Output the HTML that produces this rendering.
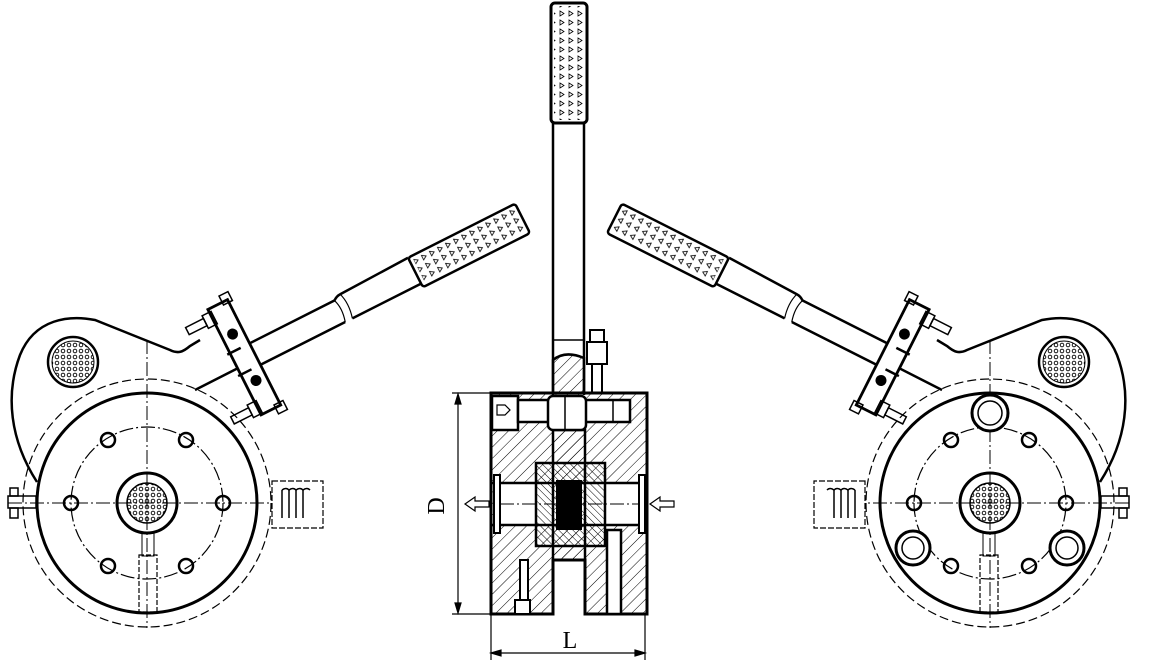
<!DOCTYPE html>
<html><head><meta charset="utf-8"><style>html,body{margin:0;padding:0;background:#fff}svg{display:block}</style></head>
<body>
<svg width="1174" height="666" viewBox="0 0 1174 666" xmlns="http://www.w3.org/2000/svg" fill="none" stroke="#000">
<defs>
<pattern id="h" width="8" height="8" patternUnits="userSpaceOnUse" patternTransform="rotate(45)"><line x1="0" y1="0" x2="0" y2="8" stroke="#000" stroke-width="1"/></pattern>
<pattern id="h2" width="5" height="5" patternUnits="userSpaceOnUse" patternTransform="rotate(-45)"><line x1="0" y1="0" x2="0" y2="5" stroke="#000" stroke-width="1"/></pattern>
<pattern id="tri" width="9" height="9" patternUnits="userSpaceOnUse"><path d="M2 2 L6 4.5 L2 7 Z" stroke="#000" stroke-width="0.8" fill="none"/></pattern>
<pattern id="dots" width="6" height="6" patternUnits="userSpaceOnUse"><circle cx="3" cy="3" r="1.8" stroke="#000" stroke-width="0.9"/></pattern>
<g id="dev">
  <path d="M37 482 C10 440 5 395 20 355 C35 318 70 315 95 320 L170 350 C178 354 183 352 190 346 L200 340" stroke-width="2.5"/>
  <circle cx="73" cy="362" r="25" stroke-width="2.5"/>
  <circle cx="73" cy="362" r="21" fill="url(#dots)" stroke-width="1"/>
  <circle cx="147" cy="503" r="124" stroke-width="1.2" stroke-dasharray="9 4"/>
  <circle cx="147" cy="503" r="110" stroke-width="3"/>
  <circle cx="147" cy="503" r="76" stroke-width="1.2" stroke-dasharray="14 3 2 3"/>
  <line x1="147" y1="340" x2="147" y2="628" stroke-width="1" stroke-dasharray="14 3 2 3"/>
  <line x1="8" y1="503" x2="272" y2="503" stroke-width="1" stroke-dasharray="14 3 2 3"/>
  <g stroke-width="2.5">
    <circle cx="71" cy="503" r="7"/><circle cx="223" cy="503" r="7"/>
    <circle cx="108" cy="440" r="7"/><circle cx="186" cy="440" r="7"/>
    <circle cx="108" cy="566" r="7"/><circle cx="186" cy="566" r="7"/>
  </g>
  <circle cx="147" cy="503" r="30" stroke-width="3"/>
  <circle cx="147" cy="503" r="20" fill="url(#dots)" stroke-width="1.5"/>
  <rect x="139" y="555" width="18" height="57" stroke-width="1.2" stroke-dasharray="5 2"/>
  <rect x="142" y="532" width="12" height="24" stroke-width="1"/>
  <rect x="272" y="481" width="51" height="47" stroke-width="1.2" stroke-dasharray="6 2"/>
  <g stroke-width="1.5"><path d="M282 490 v28 M289 490 v28 M296 490 v28 M303 490 v28"/><path d="M282 490 q4 -3 7 0 M289 490 q4 -3 7 0 M296 490 q4 -3 7 0 M303 490 q4 -3 7 0"/></g>
  <g stroke-width="1.5"><rect x="8" y="496" width="28" height="12"/><rect x="10" y="488" width="8" height="8"/><rect x="10" y="508" width="8" height="10"/></g>
  <line x1="195" y1="390" x2="250" y2="362" stroke-width="2.5"/>
  <g transform="translate(230,360) rotate(-26.8)">
    <path d="M0 -6 L120 -6 M0 18 L120 18" stroke-width="2.5"/>
    <path d="M120 -6 q4 -3 8 -3 L205 -11 M128 18 L205 18" stroke-width="2.5"/>
    <path d="M120 -6 q4 10 0 24 M128 -9 q4 12 0 27" stroke-width="1.2"/>
    <rect x="205" y="-11" width="120" height="33" rx="3" stroke-width="2.5"/>
    <rect x="209" y="-8" width="113" height="27" fill="url(#tri)" stroke="none"/>
    <g transform="translate(25,0)">
    <rect x="-22" y="-55" width="22" height="118" stroke-width="2.8" fill="#fff"/>
    <circle cx="-11" cy="-22" r="5" fill="#000"/><circle cx="-11" cy="30" r="5" fill="#000"/>
    <rect x="-30" y="-52" width="10" height="14" stroke-width="1.5"/><rect x="-30" y="48" width="10" height="14" stroke-width="1.5"/>
    <rect x="-50" y="-49" width="20" height="8" stroke-width="1.5"/><rect x="-50" y="51" width="20" height="8" stroke-width="1.5"/>
    <rect x="-6" y="-62" width="10" height="10" stroke-width="1.5"/><rect x="-6" y="60" width="10" height="10" stroke-width="1.5"/>
    </g>
    <path d="M3 -6 L15 -6 M3 18 L15 18" stroke-width="2.5"/>
  </g>
</g>
</defs>
<use href="#dev"/>
<use href="#dev" transform="translate(1137,0) scale(-1,1)"/>
<g stroke-width="3" fill="#fff">
  <circle cx="990" cy="413" r="18"/><circle cx="913" cy="548" r="17"/><circle cx="1067" cy="548" r="17"/>
</g>
<g stroke-width="1.5"><circle cx="990" cy="413" r="12"/><circle cx="913" cy="548" r="11"/><circle cx="1067" cy="548" r="11"/></g>

<line x1="553" y1="123" x2="553" y2="395" stroke-width="2.5"/>
<line x1="584" y1="123" x2="584" y2="395" stroke-width="2.5"/>
<rect x="551" y="3" width="36" height="120" rx="4" stroke-width="3"/>
<rect x="554" y="6" width="30" height="114" fill="url(#tri)" stroke="none"/>
<line x1="553" y1="340" x2="584" y2="340" stroke-width="1.5"/>
<path d="M553 393 L553 360 Q565 350 584 358 L584 393 Z" fill="url(#h)" stroke-width="2.5"/>
<rect x="590" y="330" width="14" height="12" stroke-width="2"/>
<rect x="587" y="342" width="20" height="22" stroke-width="2"/>
<rect x="592" y="364" width="10" height="29" stroke-width="2"/>
<path d="M491 393 H647 V614 H585 V560 H553 V614 H491 Z" fill="url(#h)" stroke-width="3"/>
<rect x="494" y="483" width="150" height="42" fill="#fff" stroke="none"/>
<rect x="536" y="463" width="69" height="83" fill="url(#h2)" stroke-width="2.5"/>
<rect x="553" y="430" width="32" height="130" fill="url(#h)" stroke-width="2.5"/>
<rect x="556" y="480" width="26" height="50" fill="#000" stroke="none"/>
<line x1="491" y1="483" x2="647" y2="483" stroke-width="2.5"/>
<line x1="491" y1="525" x2="647" y2="525" stroke-width="2.5"/>
<rect x="494" y="475" width="6" height="58" stroke-width="2" fill="#fff"/>
<rect x="639" y="475" width="6" height="58" stroke-width="2" fill="#fff"/>
<line x1="500" y1="504" x2="639" y2="504" stroke-width="1" stroke-dasharray="14 3 2 3"/>
<rect x="492" y="396" width="26" height="34" fill="#fff" stroke-width="2.5"/>
<rect x="518" y="400" width="112" height="22" fill="#fff" stroke-width="2.5"/>
<rect x="548" y="396" width="38" height="34" rx="5" fill="#fff" stroke-width="2.5"/>
<path d="M497 405 h8 l5 5 l-5 5 h-8 z" stroke-width="1.2"/>
<line x1="613" y1="400" x2="613" y2="422" stroke-width="1.5"/>
<line x1="565" y1="396" x2="565" y2="430" stroke-width="1.5"/>
<rect x="520" y="560" width="8" height="42" fill="#fff" stroke-width="2"/>
<rect x="515" y="600" width="15" height="14" fill="#fff" stroke-width="2"/>
<rect x="607" y="530" width="14" height="84" fill="#fff" stroke-width="2.5"/>
<path d="M465 504 l10 -7 v4 h14 v6 h-14 v4 z" stroke-width="1.2" fill="#fff"/>
<path d="M650 504 l10 -7 v4 h14 v6 h-14 v4 z" stroke-width="1.2" fill="#fff"/>
<g stroke-width="1.2">
  <line x1="452" y1="393" x2="491" y2="393"/><line x1="452" y1="614" x2="491" y2="614"/>
  <line x1="458" y1="395" x2="458" y2="612"/>
  <path d="M458 394 l-3 10 h6 z M458 613 l-3 -10 h6 z" fill="#000"/>
  <line x1="491" y1="614" x2="491" y2="660"/><line x1="645" y1="614" x2="645" y2="660"/>
  <line x1="492" y1="653" x2="644" y2="653"/>
  <path d="M491 653 l10 -3 v6 z M645 653 l-10 -3 v6 z" fill="#000"/>
</g>
<text x="570" y="648" font-family="Liberation Serif, serif" font-size="24" fill="#000" stroke="none" text-anchor="middle">L</text>
<text transform="translate(444,506) rotate(-90)" font-family="Liberation Serif, serif" font-size="24" fill="#000" stroke="none" text-anchor="middle">D</text>
</svg>
</body></html>
